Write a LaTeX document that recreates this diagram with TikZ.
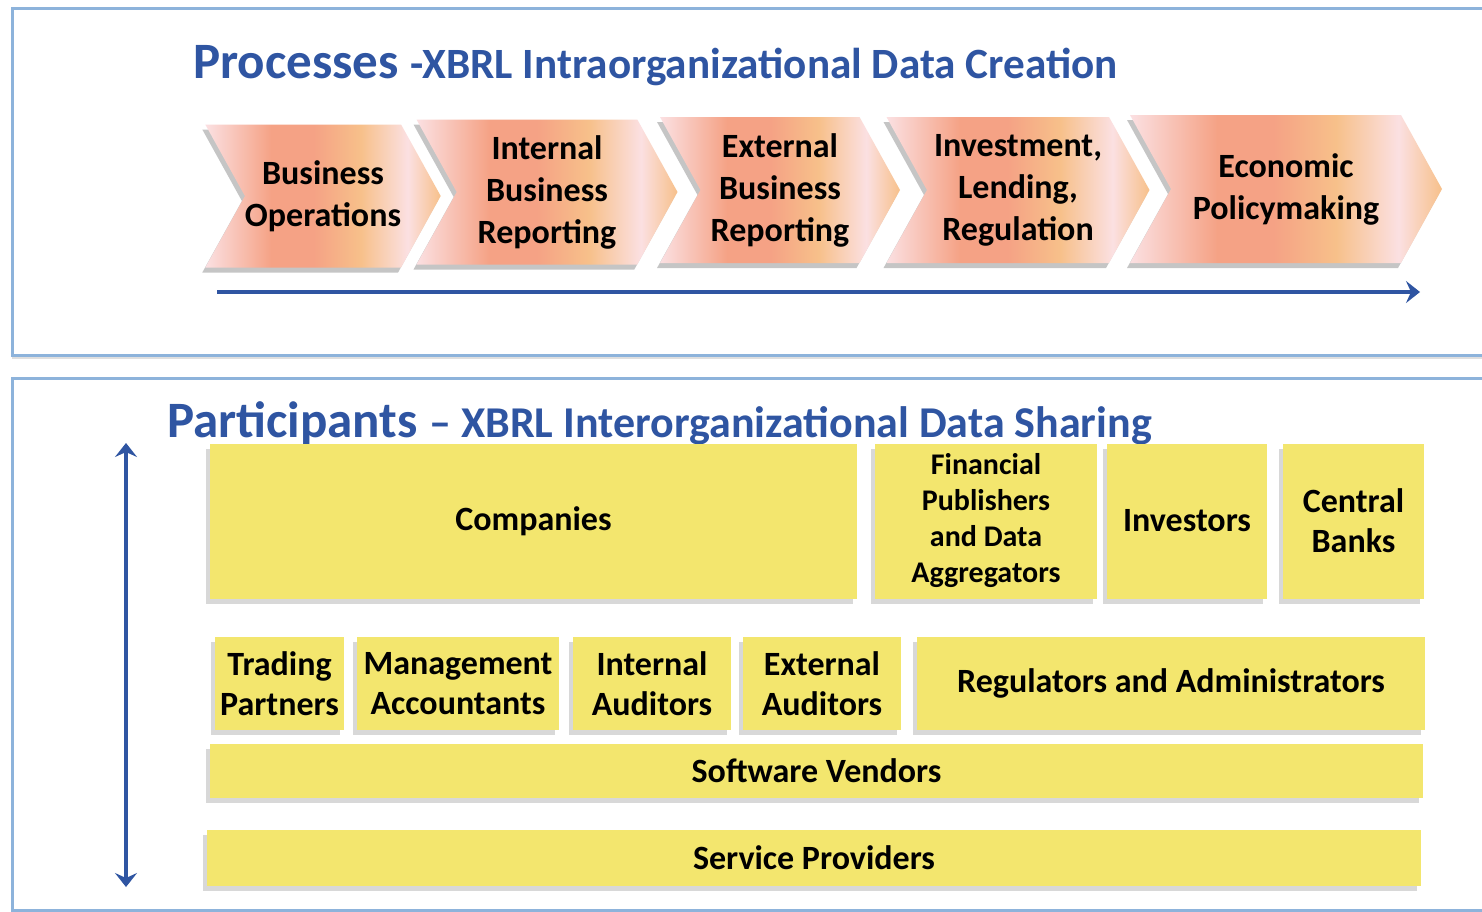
\documentclass[tikz,border=0pt]{standalone}
\usepackage{fontspec}
\setmainfont{Carlito}
\usetikzlibrary{shapes.symbols,shadows,arrows.meta}

\definecolor{titleblue}{HTML}{2F55A2}
\definecolor{frameblue}{HTML}{8DB3DB}
\definecolor{boxyellow}{HTML}{F3E66E}
\definecolor{salmon}{HTML}{F5A285}
\definecolor{apricot}{HTML}{F7C08A}
\definecolor{blush}{HTML}{FBE0E2}
\pgfdeclarehorizontalshading{chevshade}{100bp}{color(0bp)=(blush); color(25bp)=(blush);
  color(39bp)=(salmon); color(48bp)=(salmon); color(58bp)=(apricot); color(68bp)=(blush);
  color(75bp)=(apricot); color(100bp)=(apricot)}

\tikzset{
  frame/.style={draw=frameblue,line width=3pt,fill=white,
    drop shadow={shadow xshift=0pt,shadow yshift=-4pt,opacity=0.25}},
  chev/.style={signal,signal to=east,signal from=west,signal pointer angle=122,
    shading=chevshade,inner sep=0pt,
    align=center,font=\fontsize{34}{42}\selectfont\bfseries,
    drop shadow={shadow xshift=-3pt,shadow yshift=-5pt,opacity=0.45}},
  part/.style={rectangle,fill=boxyellow,inner sep=0pt,align=center,
    font=\fontsize{34}{40}\selectfont\bfseries,
    drop shadow={shadow xshift=-4pt,shadow yshift=-5pt,opacity=0.3}},
  flow/.style={draw=titleblue,line width=4pt,-{Stealth[length=14pt,width=22pt,inset=5pt]}}
}

\begin{document}
\begin{tikzpicture}[x=1pt,y=-1pt]
\useasboundingbox (0,0) rectangle (1482,911);
\clip (0,0) rectangle (1482,911);
\draw [frame] (12,8) rectangle (1500,355);
\draw [frame] (12,378) rectangle (1500,910);

\node [anchor=base west,inner sep=0pt,text=titleblue,font=\bfseries] (proctitle) at (193,78)
  {{\fontsize{51}{60}\selectfont Processes\ }{\fontsize{43.2}{50}\selectfont -XBRL Intraorganizational Data Creation}};
\node [anchor=base west,inner sep=0pt,text=titleblue,font=\bfseries] (parttitle) at (167,437)
  {{\fontsize{51}{60}\selectfont Participants\ }{\fontsize{44}{50}\selectfont -- XBRL Interorganizational Data Sharing}};

\node [chev,minimum width=220pt,minimum height=143pt] (bizops) at (323,196) {Business\\Operations};
\node [chev,minimum width=261pt,minimum height=145pt] (intrep) at (547,192) {Internal\\Business\\Reporting};
\node [chev,minimum width=240pt,minimum height=146pt] (extrep) at (780,190) {External\\Business\\Reporting};
\node [chev,minimum width=263pt,minimum height=146pt] (invest) at (1018,190) {Investment,\\Lending,\\Regulation};
\node [chev,minimum width=312pt,minimum height=148pt] (econ) at (1286,189) {Economic\\Policymaking};

\coordinate (pstart) at (217,292);
\coordinate (pend) at (1420,292);
\draw [flow] (pstart) -- (pend);

\coordinate (ptop) at (126,443);
\coordinate (pbot) at (126,887);
\draw [flow,{Stealth[length=14pt,width=22pt,inset=5pt]}-{Stealth[length=14pt,width=22pt,inset=5pt]}] (ptop) -- (pbot);

\node [part,minimum width=647pt,minimum height=155pt] (companies) at (533.5,521) {Companies};
\node [part,minimum width=222pt,minimum height=155pt,font=\fontsize{30}{36}\selectfont\bfseries] (finpub) at (986,521) {Financial\\Publishers\\and Data\\Aggregators};
\node [part,minimum width=160pt,minimum height=155pt] (investors) at (1187,521) {Investors};
\node [part,minimum width=141pt,minimum height=155pt] (central) at (1353.5,521) {Central\\Banks};

\node [part,minimum width=129pt,minimum height=93pt] (trading) at (279.5,683.5) {Trading\\Partners};
\node [part,minimum width=202pt,minimum height=93pt] (mgmt) at (458,683.5) {Management\\Accountants};
\node [part,minimum width=158pt,minimum height=93pt] (intaud) at (652,683.5) {Internal\\Auditors};
\node [part,minimum width=158pt,minimum height=93pt] (extaud) at (822,683.5) {External\\Auditors};
\node [part,minimum width=508pt,minimum height=93pt] (regul) at (1171,683.5) {Regulators and Administrators};

\node [part,minimum width=1213pt,minimum height=54pt] (software) at (816.5,771) {Software Vendors};
\node [part,minimum width=1214pt,minimum height=56pt] (service) at (814,858) {Service Providers};
\end{tikzpicture}
\end{document}
